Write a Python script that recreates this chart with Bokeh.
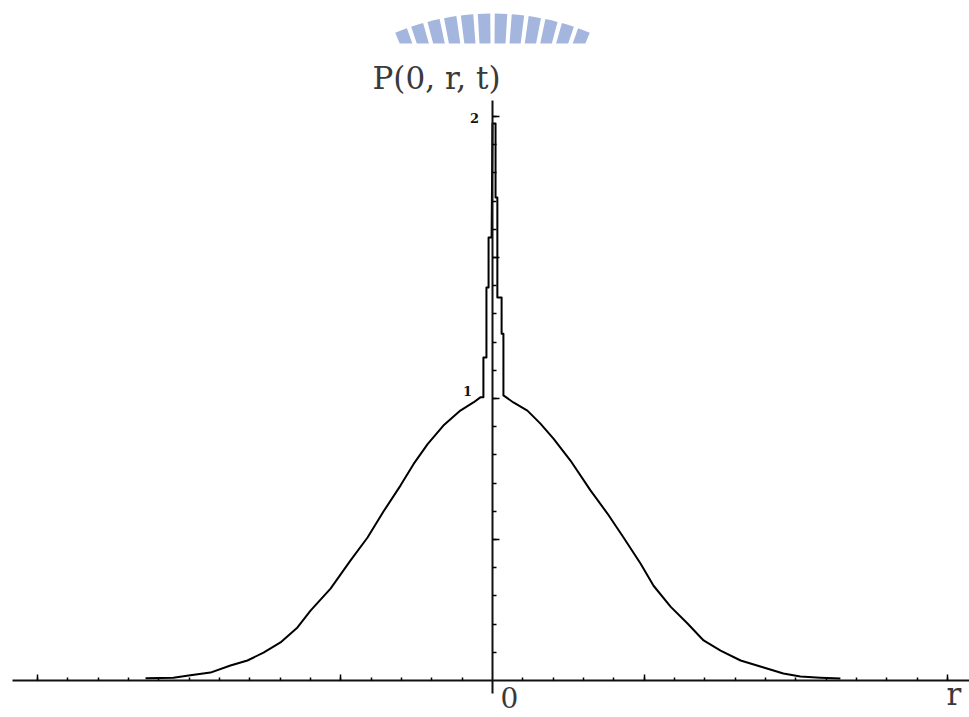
from bokeh.plotting import figure
from bokeh.models import LinearAxis, FixedTicker, ColumnDataSource
from bokeh.core.properties import value
from bokeh.embed import file_html
from bokeh.resources import INLINE
import math

# P(0, r, t) sampled along r
r_vals = [-1.144, -1.052, -1.002, -0.930, -0.864, -0.808, -0.755, -0.699, -0.643, -0.600,
          -0.534, -0.468, -0.412, -0.359, -0.303, -0.260, -0.214, -0.162, -0.106, -0.063,
          -0.040, -0.030, -0.030, -0.020, -0.020, -0.013, -0.013, -0.003, 0.000, 0.010,
          0.010, 0.016, 0.016, 0.030, 0.030, 0.036, 0.036, 0.069, 0.115, 0.158,
          0.201, 0.257, 0.323, 0.379, 0.432, 0.488, 0.531, 0.587, 0.643, 0.696,
          0.752, 0.818, 0.894, 0.959, 1.015, 1.081, 1.147]
p_vals = [0.008, 0.010, 0.018, 0.028, 0.053, 0.071, 0.099, 0.135, 0.188, 0.248,
          0.326, 0.426, 0.507, 0.600, 0.692, 0.768, 0.838, 0.904, 0.957, 0.986,
          1.004, 1.004, 1.145, 1.145, 1.394, 1.394, 1.571, 1.571, 1.975, 1.975,
          1.713, 1.713, 1.358, 1.358, 1.230, 1.230, 1.011, 0.986, 0.957, 0.911,
          0.858, 0.780, 0.674, 0.592, 0.507, 0.415, 0.336, 0.262, 0.202, 0.142,
          0.106, 0.071, 0.046, 0.025, 0.014, 0.010, 0.007]

# axis ticks
x_major = [-1.5, -0.5, 0.5, 1.5]
x_minor = [round(k * 0.1, 1) for k in range(-15, 16) if k != 0]
y_major = [0.5, 1.0, 1.5, 2.0]
y_minor = [round(k * 0.1, 1) for k in range(1, 21)]
y_tick_text = ["1", "2"]
y_tick_pos = [1.0, 2.0]

p = figure(width=969, height=717, output_backend="svg", toolbar_location=None,
           x_range=(-1.6222, 1.5727), y_range=(-0.1312, 2.4113),
           x_axis_location=None, y_axis_location=None, min_border=0)
p.outline_line_color = None
p.background_fill_color = "white"
p.border_fill_color = "white"
p.grid.visible = False

# decorative ring of bars across the top
bar_step = 0.0667
bar_half = 0.0245
offsets = [(k + 0.5) * bar_step * s for k in range(6) for s in (-1, 1)]
starts = [math.pi / 2 + o - bar_half for o in offsets]
ends = [math.pi / 2 + o + bar_half for o in offsets]
p.annular_wedge(x=0, y=1.461, inner_radius=215, outer_radius=255,
                inner_radius_units="screen", outer_radius_units="screen",
                start_angle=starts, end_angle=ends,
                fill_color="#a5b6de", line_color=None)
p.quad(left=-0.42, right=0.42, bottom=2.10, top=2.2589,
       fill_color="white", line_color=None)

# the curve
src = ColumnDataSource(dict(r=r_vals, P=p_vals))
p.line("r", "P", source=src, line_color="black", line_width=2, line_join="round")

# axes crossing at the origin
xaxis = LinearAxis(fixed_location=0, bounds=(-1.583, 1.573),
                   ticker=FixedTicker(ticks=x_major, minor_ticks=x_minor),
                   major_tick_in=6, major_tick_out=0,
                   minor_tick_in=3, minor_tick_out=0,
                   axis_line_width=2, axis_line_color="#111111",
                   major_tick_line_width=1.5, minor_tick_line_width=1.5,
                   major_label_overrides={t: "" for t in x_major})
yaxis = LinearAxis(fixed_location=0, bounds=(-0.046, 2.057),
                   ticker=FixedTicker(ticks=y_major, minor_ticks=y_minor),
                   major_tick_in=7, major_tick_out=0,
                   minor_tick_in=4, minor_tick_out=0,
                   axis_line_width=2, axis_line_color="#111111",
                   major_tick_line_width=1.5, minor_tick_line_width=1.5,
                   major_label_overrides={t: "" for t in y_major})
p.add_layout(xaxis, "below")
p.add_layout(yaxis, "left")

# tick labels on the vertical axis
p.text(x=[-0.0824, -0.0593], y=[1.028, 1.996], text=y_tick_text,
       text_font=value("DejaVu Serif"), text_font_size="13px", text_font_style="bold",
       text_align="center", text_baseline="middle", text_color="#111111")

# axis titles and origin label
p.text(x=[-0.3957], y=[2.135], text=["P(0, r, t)"],
       text_font=value("DejaVu Serif"), text_font_size="31px",
       text_align="left", text_baseline="alphabetic", text_color="#3a3a3a")
p.text(x=[0.0264], y=[-0.0603], text=["0"],
       text_font=value("DejaVu Serif"), text_font_size="28px",
       text_align="left", text_baseline="alphabetic", text_color="#3a3a3a")
p.text(x=[1.497], y=[-0.0496], text=["r"],
       text_font=value("DejaVu Serif"), text_font_size="31px",
       text_align="left", text_baseline="alphabetic", text_color="#3a3a3a")

open("out.html", "w").write(file_html(p, INLINE))
